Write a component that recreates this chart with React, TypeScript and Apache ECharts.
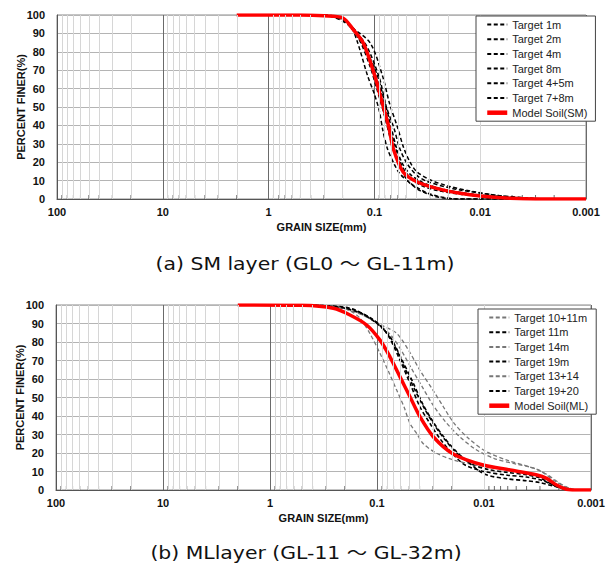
import React, { useEffect, useRef } from "react";
import * as echarts from "echarts";

// ---------- axis / tick data ----------
const xTickValues = [100, 10, 1, 0.1, 0.01, 0.001];
const xTickLabels = ["100", "10", "1", "0.1", "0.01", "0.001"];
const decadeStarts = [0.001, 0.01, 0.1, 1, 10];
const minorMultipliers = [2, 3, 4, 5, 6, 7, 8, 9];

// ---------- (a) SM layer ----------
const smNames = ["Target 1m", "Target 2m", "Target 4m", "Target 8m", "Target 4+5m", "Target 7+8m"];
const smModelName = "Model Soil(SM)";

const smTarget1m = [[0.4, 100], [0.25, 99.5], [0.19, 97], [0.15, 91], [0.118, 83], [0.09, 66], [0.077, 50], [0.0657, 39], [0.058, 28], [0.05, 20], [0.04, 13], [0.032, 9.6], [0.02, 6.2], [0.0155, 4.9], [0.0087, 2.7], [0.005, 1], [0.003, 0.3], [0.002, 0], [0.001, 0]];
const smTarget2m = [[0.3, 100], [0.22, 99], [0.17, 94.5], [0.146, 86], [0.116, 67], [0.1, 57], [0.09, 48], [0.083, 37], [0.075, 27], [0.065, 19], [0.058, 14], [0.048, 9.5], [0.041, 6.7], [0.032, 3.4], [0.024, 1.2], [0.018, 0.2], [0.015, 0], [0.001, 0]];
const smTarget4m = [[0.4, 100], [0.25, 99.6], [0.2, 98], [0.16, 93], [0.109, 84.6], [0.0834, 66.5], [0.072, 52], [0.0605, 39], [0.053, 28], [0.046, 20], [0.04, 15], [0.03, 10.5], [0.02, 7], [0.012, 4.2], [0.007, 2], [0.004, 0.8], [0.0025, 0], [0.001, 0]];
const smTarget8m = [[0.35, 100], [0.25, 99], [0.18, 95], [0.14, 87], [0.11, 72], [0.095, 60], [0.08, 45], [0.07, 32], [0.06, 20], [0.05, 11], [0.046, 8.5], [0.037, 4.5], [0.032, 3], [0.026, 1.2], [0.021, 0.4], [0.017, 0], [0.001, 0]];
const smTarget45m = [[0.45, 100], [0.28, 99.5], [0.2, 97.5], [0.155, 91], [0.12, 81], [0.095, 68], [0.08, 53], [0.07, 40], [0.062, 28], [0.054, 19], [0.045, 13], [0.035, 9], [0.025, 6], [0.015, 3.5], [0.008, 1.6], [0.004, 0.4], [0.0025, 0], [0.001, 0]];
const smTarget78m = [[0.4, 100], [0.26, 99.5], [0.19, 97], [0.15, 90], [0.12, 80], [0.1, 69], [0.085, 56], [0.074, 42], [0.064, 29], [0.055, 18], [0.045, 11], [0.035, 7], [0.025, 4.5], [0.015, 2.5], [0.008, 1], [0.004, 0.2], [0.003, 0], [0.001, 0]];
const smModel = [[2, 100], [0.5, 100], [0.3, 99.6], [0.2, 98.5], [0.158, 92], [0.127, 84.6], [0.0986, 66.5], [0.085, 53], [0.073, 39], [0.066, 27], [0.0533, 14.5], [0.0398, 9.4], [0.0258, 5.8], [0.0155, 3.1], [0.01, 1.6], [0.0052, 0.4], [0.003, 0], [0.001, 0]];
const smTargets = [smTarget1m, smTarget2m, smTarget4m, smTarget8m, smTarget45m, smTarget78m];

// ---------- (b) ML layer ----------
const mlNames = ["Target 10+11m", "Target 11m", "Target 14m", "Target 19m", "Target 13+14", "Target 19+20"];
const mlModelName = "Model Soil(ML)";
const mlColors = ["#777777", "#000000", "#777777", "#000000", "#777777", "#000000"];

const mlTarget1011m = [[0.6, 100], [0.3, 99.5], [0.2, 98], [0.13, 94], [0.09, 89], [0.0655, 84.7], [0.05, 75], [0.04, 65], [0.03, 54], [0.024, 45], [0.019, 36], [0.014, 28], [0.0097, 21], [0.006, 16], [0.004, 13], [0.003, 10.5], [0.0022, 5], [0.0017, 1.5], [0.0013, 0], [0.001, 0]];
const mlTarget11m = [[0.6, 100], [0.3, 99.5], [0.2, 98.5], [0.167, 97.5], [0.12, 93.5], [0.09, 88], [0.07, 79], [0.055, 66], [0.045, 55], [0.036, 44], [0.029, 35], [0.023, 27], [0.018, 20], [0.013, 14], [0.009, 11], [0.006, 9.5], [0.004, 8.2], [0.003, 6.5], [0.0024, 3.5], [0.0019, 1], [0.0015, 0], [0.001, 0]];
const mlTarget14m = [[0.5, 100], [0.3, 99.5], [0.2, 98], [0.14, 95], [0.1, 90], [0.075, 84], [0.06, 76], [0.048, 66], [0.038, 56], [0.03, 46], [0.023, 37], [0.017, 29], [0.012, 22], [0.008, 17], [0.005, 14], [0.0035, 12], [0.0026, 8.5], [0.002, 4], [0.0016, 1], [0.0013, 0], [0.001, 0]];
const mlTarget19m = [[0.6, 100], [0.3, 99.6], [0.2, 98.8], [0.16, 97.3], [0.108, 91.9], [0.081, 84.7], [0.061, 70.3], [0.0492, 57.7], [0.0397, 45], [0.032, 36], [0.026, 28], [0.02, 20], [0.015, 13.5], [0.01, 10], [0.006, 8], [0.004, 7], [0.003, 5.5], [0.0023, 3], [0.0018, 0.8], [0.0015, 0], [0.001, 0]];
const mlTarget1314 = [[0.4, 100], [0.25, 99], [0.18, 97], [0.144, 92.8], [0.115, 84], [0.094, 74], [0.078, 64], [0.0655, 54], [0.056, 45], [0.0492, 36], [0.042, 30], [0.0369, 25], [0.028, 20], [0.02, 16.5], [0.012, 13.5], [0.007, 11.5], [0.004, 9.5], [0.0028, 7], [0.0021, 3], [0.0016, 0.5], [0.0013, 0], [0.001, 0]];
const mlTarget1920 = [[0.5, 100], [0.28, 99.5], [0.19, 98], [0.14, 95.5], [0.1, 90], [0.076, 83], [0.058, 70], [0.046, 58], [0.037, 46], [0.03, 37], [0.024, 29], [0.019, 22], [0.014, 15], [0.0098, 8.5], [0.006, 6], [0.004, 5], [0.003, 4], [0.0022, 2], [0.0017, 0.4], [0.0014, 0], [0.001, 0]];
const mlModel = [[2, 100], [0.5, 99.8], [0.256, 98.2], [0.179, 94.6], [0.125, 89.2], [0.0937, 81], [0.0757, 72], [0.0611, 61.3], [0.0492, 50.4], [0.0397, 39.6], [0.0298, 28.8], [0.0194, 19.5], [0.0102, 13.5], [0.0057, 10.8], [0.0032, 8.1], [0.0026, 6.3], [0.0021, 2.7], [0.0017, 0.4], [0.0014, 0], [0.001, 0]];
const mlTargets = [mlTarget1011m, mlTarget11m, mlTarget14m, mlTarget19m, mlTarget1314, mlTarget1920];

const captionA = "(a) SM layer (GL0 ～ GL-11m)";
const captionB = "(b) MLlayer (GL-11 ～ GL-32m)";

const minorValues: number[] = [];
decadeStarts.forEach((d) => minorMultipliers.forEach((m) => minorValues.push(Number((d * m).toPrecision(3)))));

const labelFor = (v: number) => {
  for (let i = 0; i < xTickValues.length; i++) {
    if (Math.abs(Math.log10(v) - Math.log10(xTickValues[i])) < 1e-6) return xTickLabels[i];
  }
  return "";
};

const FONT = "Arial, 'Liberation Sans', sans-serif";
const CAPTION_FONT = "17px 'DejaVu Sans', 'Noto Sans CJK KR', sans-serif";

function makeAxes(idx: number) {
  const x = {
    type: "log",
    logBase: 10,
    gridIndex: idx,
    min: 0.001,
    max: 100,
    inverse: true,
    name: "GRAIN SIZE(mm)",
    nameLocation: "middle",
    nameGap: 22,
    nameTextStyle: { fontFamily: FONT, fontWeight: "bold", fontSize: 11, color: "#111" },
    axisLine: { show: true, lineStyle: { color: "#555", width: 1 } },
    axisTick: { show: false },
    axisLabel: { formatter: labelFor, fontFamily: FONT, fontWeight: "bold", fontSize: 11, color: "#111", margin: 7 },
    splitLine: { show: true, lineStyle: { color: "#6a6a6a", width: 1 } },
  };
  const y = {
    type: "value",
    gridIndex: idx,
    min: 0,
    max: 100,
    interval: 10,
    name: "PERCENT FINER(%)",
    nameLocation: "middle",
    nameGap: 31,
    nameMoveOverlap: false,
    nameTextStyle: { fontFamily: FONT, fontWeight: "bold", fontSize: 11, color: "#111" },
    axisLine: { show: true, lineStyle: { color: "#555", width: 1 } },
    axisTick: { show: false },
    axisLabel: { fontFamily: FONT, fontWeight: "bold", fontSize: 11, color: "#111", margin: 12 },
    splitLine: { show: true, lineStyle: { color: "#b4b4b4", width: 1 } },
  };
  return { x, y };
}

function gridHelperSeries(idx: number) {
  return {
    type: "scatter",
    name: "minor" + idx,
    xAxisIndex: idx,
    yAxisIndex: idx,
    data: minorValues.map((v) => [v, 0]),
    symbol: "rect",
    symbolSize: [1, 4],
    symbolOffset: [0, -2],
    itemStyle: { color: "#444" },
    silent: true,
    z: 1,
    markLine: {
      silent: true,
      symbol: ["none", "none"],
      label: { show: false },
      lineStyle: { color: "#d6d6d6", type: "solid", width: 1 },
      data: minorValues.map((v) => ({ xAxis: v })),
    },
  };
}

function App() {
  const ref = useRef<HTMLDivElement>(null);
  useEffect(() => {
    document.body.style.margin = "0";
    if (!ref.current) return;
    const chart = echarts.init(ref.current, null, { renderer: "svg" });
    const a0 = makeAxes(0);
    const a1 = makeAxes(1);
    const dashed = [4, 2.5];
    const series: any[] = [gridHelperSeries(0), gridHelperSeries(1)];
    smNames.forEach((n, i) => {
      series.push({
        type: "line", name: n, xAxisIndex: 0, yAxisIndex: 0, data: smTargets[i],
        symbol: "none", showSymbol: false, smooth: 0.3, z: 3,
        lineStyle: { color: "#000", width: 1.5, type: dashed },
        itemStyle: { color: "#000" },
      });
    });
    series.push({
      type: "line", name: smModelName, xAxisIndex: 0, yAxisIndex: 0, data: smModel,
      symbol: "none", showSymbol: false, smooth: 0.3, z: 4,
      lineStyle: { color: "#ff0000", width: 3.5 }, itemStyle: { color: "#ff0000" },
    });
    mlNames.forEach((n, i) => {
      series.push({
        type: "line", name: n, xAxisIndex: 1, yAxisIndex: 1, data: mlTargets[i],
        symbol: "none", showSymbol: false, smooth: 0.3, z: 3,
        lineStyle: { color: mlColors[i], width: mlColors[i] === "#000000" ? 1.6 : 1.3, type: dashed },
        itemStyle: { color: mlColors[i] },
      });
    });
    series.push({
      type: "line", name: mlModelName, xAxisIndex: 1, yAxisIndex: 1, data: mlModel,
      symbol: "none", showSymbol: false, smooth: 0.3, z: 4,
      lineStyle: { color: "#ff0000", width: 3.5 }, itemStyle: { color: "#ff0000" },
    });

    const legendBase = {
      orient: "vertical",
      itemWidth: 20,
      itemHeight: 11,
      itemGap: 3.7,
      padding: [3, 8, 3, 9],
      borderColor: "#444",
      borderWidth: 1,
      backgroundColor: "#fff",
      selectedMode: false,
      itemStyle: { opacity: 0 },
      lineStyle: { width: 2 },
      textStyle: { fontFamily: FONT, fontSize: 11, color: "#222" },
      z: 10,
    };

    chart.setOption({
      animation: false,
      backgroundColor: "#fff",
      grid: [
        { left: 57, top: 15, width: 529, height: 184, show: true, borderColor: "#8a8a8a", borderWidth: 1, backgroundColor: "transparent" },
        { left: 56, top: 305, width: 535, height: 185, show: true, borderColor: "#8a8a8a", borderWidth: 1, backgroundColor: "transparent" },
      ],
      xAxis: [a0.x, a1.x],
      yAxis: [a0.y, a1.y],
      legend: [
        { ...legendBase, left: 476, top: 16, data: [...smNames, { name: smModelName, lineStyle: { width: 4.5 } }] },
        { ...legendBase, left: 478, top: 309, data: [...mlNames, { name: mlModelName, lineStyle: { width: 4.5 } }] },
      ],
      series,
      graphic: [
        { type: "text", x: 305, y: 264, scaleX: 1.2, style: { text: captionA, font: CAPTION_FONT, fill: "#111", textAlign: "center", textVerticalAlign: "middle" } },
        { type: "text", x: 306, y: 553, scaleX: 1.2, style: { text: captionB, font: CAPTION_FONT, fill: "#111", textAlign: "center", textVerticalAlign: "middle" } },
      ],
    });
    return () => chart.dispose();
  }, []);
  return <div ref={ref} style={{ width: 609, height: 570 }} />;
}

export default App;
